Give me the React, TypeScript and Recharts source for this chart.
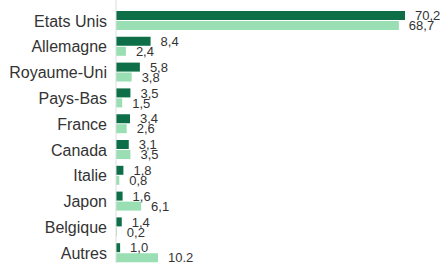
import React from 'react';
import { BarChart, Bar, XAxis, YAxis, LabelList } from 'recharts';

const categories = ['Etats Unis', 'Allemagne', 'Royaume-Uni', 'Pays-Bas', 'France', 'Canada', 'Italie', 'Japon', 'Belgique', 'Autres'];
const darkValues = [70.2, 8.4, 5.8, 3.5, 3.4, 3.1, 1.8, 1.6, 1.4, 1.0];
const lightValues = [68.7, 2.4, 3.8, 1.5, 2.6, 3.5, 0.8, 6.1, 0.2, 10.2];
const darkLabels = ['70,2', '8,4', '5,8', '3,5', '3,4', '3,1', '1,8', '1,6', '1,4', '1,0'];
const lightLabels = ['68,7', '2,4', '3,8', '1,5', '2,6', '3,5', '0,8', '6,1', '0,2', '10.2'];

const data = categories.map((c, i) => ({
  name: c,
  dark: darkValues[i],
  light: lightValues[i],
  darkLabel: darkLabels[i],
  lightLabel: lightLabels[i],
}));

const FONT = '"Liberation Sans", Arial, sans-serif';

export default function App() {
  return (
    <div style={{ position: 'absolute', left: 0, top: 0 }}>
      <BarChart
        width={443}
        height={270}
        data={data}
        layout="vertical"
        margin={{ top: 0, right: 38, bottom: 0, left: 0 }}
        barCategoryGap={3}
        barGap={1}
      >
        <XAxis type="number" domain={[0, 'dataMax']} hide />
        <YAxis
          type="category"
          dataKey="name"
          width={116}
          padding={{ top: 8, bottom: 4 }}
          axisLine={{ stroke: '#dddddd' }}
          tickLine={false}
          tickMargin={3}
          interval={0}
          tick={{ fontSize: 16, fill: '#333333', fontFamily: FONT }}
        />
        <Bar dataKey="dark" fill="#0d6e48" isAnimationActive={false}>
          <LabelList dataKey="darkLabel" position="right" offset={10} style={{ fontSize: 13, fill: '#333333', fontFamily: FONT }} />
        </Bar>
        <Bar dataKey="light" fill="#99dfb3" isAnimationActive={false}>
          <LabelList dataKey="lightLabel" position="right" offset={10} style={{ fontSize: 13, fill: '#333333', fontFamily: FONT }} />
        </Bar>
      </BarChart>
    </div>
  );
}
